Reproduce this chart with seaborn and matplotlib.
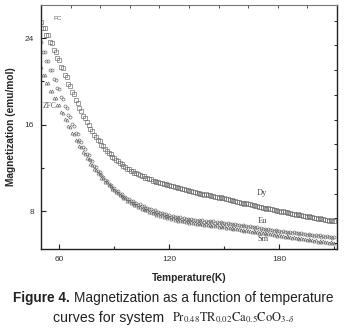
import numpy as np
import pandas as pd
import seaborn as sns
import matplotlib
matplotlib.use("Agg")
import matplotlib.pyplot as plt
from matplotlib.offsetbox import TextArea, HPacker, AnchoredOffsetbox

# Temperature grids (K): field-cooled on even steps, zero-field-cooled on odd steps
temp_fc = list(range(50, 211, 2))
temp_zfc = list(range(51, 210, 2))

# Magnetization (emu/mol)
dy_fc = [25.5, 24.9, 24.25, 23.5, 22.75, 22.0, 21.2, 20.4, 19.6, 18.8,
         18.0, 17.3, 16.65, 16.0, 15.45, 14.9, 14.45, 14.0, 13.6, 13.25,
         12.9, 12.6, 12.33, 12.08, 11.88, 11.7, 11.54, 11.38, 11.23, 11.09,
         10.95, 10.83, 10.71, 10.6, 10.5, 10.4, 10.31, 10.22, 10.13, 10.04,
         9.95, 9.87, 9.79, 9.71, 9.63, 9.55, 9.48, 9.41, 9.34, 9.27,
         9.2, 9.12, 9.04, 8.96, 8.88, 8.8, 8.72, 8.64, 8.56, 8.48,
         8.4, 8.33, 8.26, 8.19, 8.12, 8.05, 7.98, 7.91, 7.84, 7.77,
         7.7, 7.64, 7.58, 7.52, 7.46, 7.4, 7.34, 7.28, 7.22, 7.16, 7.1]
dy_zfc = [24.9, 24.28, 23.6, 22.86, 22.12, 21.35, 20.57, 19.79, 19.01, 18.23,
          17.5, 16.84, 16.2, 15.61, 15.07, 14.58, 14.14, 13.72, 13.36, 13.01,
          12.69, 12.41, 12.14, 11.92, 11.73, 11.56, 11.4, 11.25, 11.1, 10.96,
          10.83, 10.71, 10.6, 10.49, 10.39, 10.3, 10.21, 10.12, 10.03, 9.94,
          9.85, 9.77, 9.69, 9.61, 9.53, 9.46, 9.39, 9.32, 9.25, 9.18,
          9.1, 9.02, 8.94, 8.86, 8.78, 8.7, 8.62, 8.54, 8.46, 8.38,
          8.31, 8.24, 8.17, 8.1, 8.03, 7.96, 7.89, 7.82, 7.75, 7.68,
          7.61, 7.55, 7.49, 7.43, 7.37, 7.31, 7.25, 7.19, 7.13, 7.07]
eu_fc = [23.6, 22.7, 21.85, 21.0, 20.15, 19.3, 18.4, 17.55, 16.7, 15.9,
         15.1, 14.4, 13.75, 13.15, 12.6, 12.1, 11.65, 11.2, 10.8, 10.45,
         10.1, 9.83, 9.57, 9.33, 9.13, 8.95, 8.78, 8.62, 8.47, 8.33,
         8.2, 8.08, 7.96, 7.85, 7.75, 7.65, 7.57, 7.51, 7.44, 7.38,
         7.32, 7.28, 7.23, 7.19, 7.15, 7.11, 7.08, 7.05, 7.01, 6.98,
         6.95, 6.9, 6.85, 6.8, 6.75, 6.7, 6.65, 6.6, 6.55, 6.5,
         6.45, 6.4, 6.35, 6.3, 6.25, 6.2, 6.16, 6.12, 6.08, 6.04,
         6.0, 5.96, 5.92, 5.88, 5.84, 5.8, 5.76, 5.72, 5.68, 5.64, 5.6]
eu_zfc = [22.75, 21.89, 21.06, 20.23, 19.4, 18.54, 17.69, 16.86, 16.05, 15.27,
          14.54, 13.89, 13.28, 12.72, 12.2, 11.74, 11.3, 10.88, 10.52, 10.18,
          9.87, 9.6, 9.35, 9.13, 8.94, 8.77, 8.6, 8.45, 8.3, 8.17,
          8.04, 7.92, 7.81, 7.7, 7.6, 7.51, 7.44, 7.38, 7.31, 7.25,
          7.2, 7.16, 7.11, 7.07, 7.03, 7.0, 6.97, 6.93, 6.9, 6.87,
          6.85, 6.8, 6.75, 6.7, 6.65, 6.6, 6.55, 6.5, 6.45, 6.4,
          6.35, 6.3, 6.25, 6.2, 6.15, 6.1, 6.06, 6.02, 5.98, 5.94,
          5.9, 5.86, 5.82, 5.78, 5.74, 5.7, 5.66, 5.62, 5.58, 5.54]
sm_fc = [21.3, 20.6, 19.85, 19.15, 18.45, 17.8, 17.1, 16.45, 15.75, 15.1,
         14.5, 13.9, 13.33, 12.8, 12.3, 11.85, 11.43, 11.04, 10.67, 10.33,
         10.0, 9.7, 9.43, 9.18, 8.95, 8.75, 8.57, 8.4, 8.24, 8.1,
         7.97, 7.85, 7.73, 7.62, 7.52, 7.42, 7.34, 7.26, 7.19, 7.12,
         7.05, 7.0, 6.95, 6.9, 6.85, 6.8, 6.76, 6.72, 6.68, 6.64,
         6.6, 6.54, 6.48, 6.42, 6.36, 6.3, 6.25, 6.2, 6.15, 6.1,
         6.05, 6.0, 5.95, 5.9, 5.85, 5.8, 5.75, 5.7, 5.65, 5.6,
         5.55, 5.5, 5.45, 5.4, 5.35, 5.3, 5.26, 5.22, 5.18, 5.14, 5.1]
sm_zfc = [20.55, 19.85, 19.14, 18.46, 17.81, 17.15, 16.5, 15.84, 15.19, 14.58,
          14.0, 13.44, 12.9, 12.39, 11.93, 11.5, 11.11, 10.74, 10.39, 10.07,
          9.75, 9.47, 9.21, 8.97, 8.75, 8.56, 8.39, 8.22, 8.07, 7.94,
          7.81, 7.69, 7.58, 7.47, 7.37, 7.28, 7.2, 7.13, 7.06, 6.99,
          6.93, 6.88, 6.83, 6.78, 6.73, 6.68, 6.64, 6.6, 6.56, 6.52,
          6.49, 6.43, 6.37, 6.31, 6.25, 6.2, 6.15, 6.1, 6.05, 6.0,
          5.95, 5.9, 5.85, 5.8, 5.75, 5.7, 5.65, 5.6, 5.55, 5.5,
          5.45, 5.4, 5.35, 5.3, 5.25, 5.2, 5.16, 5.12, 5.08, 5.04]

x_ticks = [60, 120, 180]
y_ticks = [8, 16, 24]

sns.set_style("ticks")
plt.rcParams["font.family"] = ["Liberation Sans", "DejaVu Sans"]
plt.rcParams["mathtext.fontset"] = "stix"

fig = plt.figure(figsize=(3.47, 3.33), dpi=100)
ax = fig.add_axes([0.118, 0.252, 0.853, 0.733])

curves = [
    (temp_fc, dy_fc, "s", 2.7),
    (temp_zfc, dy_zfc, "s", 2.7),
    (temp_fc, eu_fc, "o", 2.2),
    (temp_zfc, eu_zfc, "o", 2.2),
    (temp_fc, sm_fc, "^", 2.2),
    (temp_zfc, sm_zfc, "^", 2.2),
]
for t, m, mk, ms in curves:
    df = pd.DataFrame({"T": t, "M": m})
    sns.lineplot(data=df, x="T", y="M", ax=ax, linestyle="", marker=mk,
                 markersize=ms, markerfacecolor="none",
                 markeredgecolor="#666666", markeredgewidth=0.45)

ax.set_xlim(50, 211.5)
ax.set_ylim(4.5, 27.05)
ax.set_xticks(x_ticks)
ax.set_yticks(y_ticks)
ax.set_xticks([90, 150, 210], minor=True)
ax.set_yticks([12, 20], minor=True)
ax.tick_params(which="both", direction="in", width=0.8, color="#222222",
               labelsize=6, labelcolor="#333333", pad=5)
ax.tick_params(which="major", length=3.5)
ax.tick_params(which="minor", length=2.2)
ax.set_xlabel("Temperature(K)", fontsize=7.3, fontweight="bold", labelpad=7)
ax.set_ylabel("Magnetization (emu/mol)", fontsize=7.3, fontweight="bold", labelpad=6)
for side in ["left", "bottom", "right"]:
    ax.spines[side].set_linewidth(1.0)
    ax.spines[side].set_color("#222222")
ax.spines["top"].set_linewidth(0.8)
ax.spines["top"].set_color("#777777")

# Secondary tick scales on top and right
top = ax.twiny()
top.set_xlim(0, 10)
top.set_xticks(range(1, 10))
top.tick_params(axis="x", direction="in", length=2.2, width=0.7,
                color="#555555", labeltop=False)
right = ax.twinx()
right.set_ylim(-0.243, 9.64)
right.set_yticks(range(0, 10))
right.tick_params(axis="y", direction="in", length=2.2, width=0.7,
                  color="#222222", labelright=False)
for a in (top, right):
    for s in a.spines.values():
        s.set_visible(False)

# Curve labels
serif = ["Liberation Serif", "DejaVu Serif"]
ax.text(56.6, 25.8, "FC", fontsize=4.5, color="#666666", va="center")
ax.text(54.9, 17.7, "ZFC", fontsize=5.5, color="#555555", family=serif,
        ha="center", va="center")
ax.text(170.6, 9.65, "Dy", fontsize=6, color="#444444", family=serif,
        ha="center", va="center")
ax.text(170.6, 7.05, "Eu", fontsize=6, color="#444444", family=serif,
        ha="center", va="center")
ax.text(171.0, 5.4, "Sm", fontsize=6, color="#444444", family=serif,
        ha="center", va="center")

# Caption
cap_size = 9.8
line1 = HPacker(children=[
    TextArea("Figure 4.", textprops=dict(fontsize=cap_size, fontweight="bold", color="#222222")),
    TextArea("Magnetization as a function of temperature",
             textprops=dict(fontsize=cap_size, color="#222222")),
], align="baseline", pad=0, sep=3)
line2 = HPacker(children=[
    TextArea("curves for system", textprops=dict(fontsize=10.2, color="#222222")),
    TextArea(r"$\mathrm{Pr}_{0.48}\mathrm{TR}_{0.02}\mathrm{Ca}_{0.5}\mathrm{CoO}_{3\text{-}\delta}$",
             textprops=dict(fontsize=9.0, color="#222222")),
], align="baseline", pad=0, sep=6)
for box, yc in ((line1, 0.105), (line2, 0.045)):
    anchored = AnchoredOffsetbox(loc="center", child=box, pad=0, frameon=False,
                                 bbox_to_anchor=(0.5, yc),
                                 bbox_transform=fig.transFigure, borderpad=0)
    fig.add_artist(anchored)

fig.savefig("out.png", dpi=100)
